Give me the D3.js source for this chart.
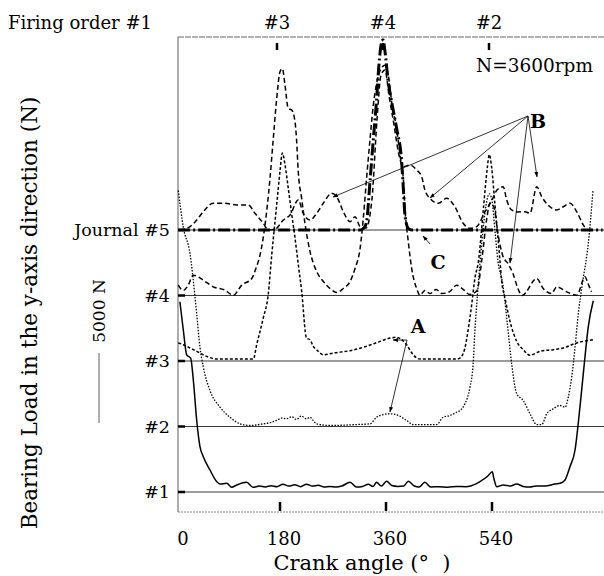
<!DOCTYPE html>
<html>
<head>
<meta charset="utf-8">
<script src="https://cdn.jsdelivr.net/npm/d3@7"></script>
<style>
  body { margin: 0; background: #fff; }
  svg { display: block; font-family: "DejaVu Serif", serif; }
</style>
</head>
<body>
<svg width="604" height="576"></svg>
<script>
// crank angle (deg) vs bearing load (N), one array per journal
const journal1 = [[10,13590],[15.8,11570],[21.6,9790],[28.4,9550],[32.8,8000],[38.5,5140],[44.1,3240],[49.8,2520],[61.1,1570],[72.5,740],[78.1,570],[89.5,620],[98,340],[106.5,500],[123.4,690],[134,340],[145,420],[155,360],[165,450],[175,380],[185,560],[195,420],[205,520],[215,380],[225,560],[235,420],[245,480],[255,360],[265,400],[275,360],[285,430],[299,690],[310,360],[320,400],[330,560],[338,400],[344,690],[352,430],[361,760],[370,460],[380,400],[390,430],[398,760],[408,430],[416,360],[426,690],[436,360],[450,380],[465,340],[480,400],[495,380],[505,450],[512,560],[519.6,740],[533,1140],[540.5,1450],[543,1000],[548,380],[559,500],[571,430],[582,570],[593,400],[604,360],[615,430],[630,430],[647,570],[655.5,620],[664,860],[672.4,1810],[681,3000],[686.5,4910],[692.3,7290],[697.9,9660],[703.5,11810],[712,13660]];

const journal2 = [[7.3,16860],[15.8,14240],[27.2,12340],[35.7,9240],[38.5,8050],[44.1,5660],[49.8,4240],[61.1,2570],[78.1,1380],[95.1,660],[112,190],[129,70],[151.6,190],[165,300],[174,430],[183,600],[191,550],[200,700],[208,500],[216,750],[225,550],[231,660],[236.5,430],[242,190],[265,70],[290,100],[310,140],[333,190],[344,660],[355,850],[367,910],[381,790],[395,430],[406,140],[446,140],[457,660],[468.7,790],[480,1020],[485.6,1140],[494,1620],[502.6,2810],[508,4480],[511,6860],[515,9240],[523,13290],[529.8,15790],[535.4,16620],[540,16140],[545,14000],[550,11860],[558.7,10070],[565.5,7570],[573.4,4480],[582,2340],[593,1860],[604.5,910],[616,140],[624.4,140],[633,910],[644,1260],[655.5,1500],[664,1380],[669.5,2090],[675.3,3520],[681,5660],[686.5,8050],[693,10070],[703.5,13070],[711.5,16860]];

const journal3 = [[7.3,1290],[15.8,1160],[27.2,930],[38.5,690],[55.5,330],[72.5,140],[100,140],[134.7,140],[140.4,1160],[151.6,3070],[160,4740],[166,7590],[174.4,11160],[180,13550],[184,14860],[188.5,14020],[194,12360],[200,10450],[205.5,8790],[211,6910],[216.8,4980],[225,1640],[231,1520],[236.5,1050],[242,810],[253.5,450],[270.5,570],[299,740],[327,1050],[350,1400],[367,1640],[378,1690],[395,1160],[406,450],[417.7,140],[450,140],[480,140],[485.6,210],[494,930],[500,2360],[505.5,4020],[511,5930],[517,7120],[525,10690],[532,13790],[535.4,14740],[539.5,13790],[545,11160],[550.7,8550],[553.6,7120],[556.5,5690],[562,4500],[570.5,2840],[582,1400],[593,810],[604.5,410],[621.5,690],[644,810],[661,930],[683.8,1290],[712,1520]];

const journal4 = [[7.3,740],[15.3,360],[23.8,710],[32.8,1450],[49.8,1090],[66.7,620],[86.6,380],[100.7,20],[115,740],[132,1210],[139,1930],[146,2880],[154.5,5020],[163,8360],[168.6,11210],[174.4,14070],[180,15980],[184,16210],[188.5,15020],[194,13360],[200,13240],[205.5,12410],[208,11210],[211,8840],[216.8,6930],[222.4,5140],[231,3140],[242.3,1710],[253.5,1000],[265,500],[276.3,210],[287.5,500],[299,1000],[307.4,1930],[316,3360],[321.4,5500],[327,8360],[333,11210],[338.4,13570],[344,15140],[350,16070],[358.3,16450],[364,15740],[369.6,13830],[378,11930],[383.8,10020],[389.4,8360],[392.2,6210],[397.8,3860],[403.6,1930],[412,500],[417.7,20],[426,360],[434.7,140],[445,430],[455,140],[468.7,290],[480,740],[491,430],[502.6,70],[514.5,360],[523,2640],[531.5,5600],[536.6,6600],[543.4,6300],[550,4430],[558.7,2790],[567,2290],[575.6,1570],[584,500],[591,0],[616,1210],[627,500],[641,140],[650,620],[667,260],[684,20],[697.9,1340],[703,860],[709,260]];

const journal5B = [[10,0],[27.2,240],[38.5,710],[49.8,1310],[66.7,1910],[86.6,1910],[106.5,1790],[126.2,1790],[137.5,1190],[151.6,480],[160,0],[171.5,50],[185.6,710],[197,1070],[211,2140],[219.5,1190],[231,710],[242.3,1190],[253.5,1910],[267.8,2620],[276.3,2380],[287.5,1310],[299,590],[307.4,950],[316,240],[326,140],[336,2140],[344.7,7860],[351.5,11070],[358.3,11430],[365,9640],[373.6,7500],[382,5360],[389.4,4520],[400.8,4640],[412,4290],[420.6,3810],[426,2860],[434.7,2260],[449,1910],[463,2260],[477,1660],[491,480],[502.6,120],[514,240],[528,1290],[540,2140],[548.5,2860],[559,3090],[565,2140],[573.4,1430],[584,1290],[596,1310],[604.5,1190],[616,3090],[624.4,2380],[638.5,1660],[650,1430],[661,1660],[672.4,1910],[683.8,1310],[695,360],[701,0]];

const journal5C = [[7,0],[100,0],[200,0],[316,0],[322.6,140],[327,570],[333,3570],[338.4,6430],[344,9290],[348,11790],[352.8,13450],[355,13570],[358.3,12740],[363.4,10710],[369.6,9160],[378,7260],[386.6,4880],[389.4,2980],[392.2,1070],[397.8,120],[404,0],[600,0],[728,0]];

const journals = [1, 2, 3, 4, 5];
const journalLabels = ['#1', '#2', '#3', '#4', 'Journal #5'];
const xTicks = [0, 180, 360, 540];
const firingAngles = [180, 360, 540];
const firingLabels = ['#3', '#4', '#2'];

const svg = d3.select('svg');
svg.append('rect').attr('width', 604).attr('height', 576).attr('fill', '#fff');

const x = d3.scaleLinear().domain([0, 720]).range([174, 598]);
const baseY = d3.scaleLinear().domain([1, 5]).range([492, 230]);
const loadPx = d3.scaleLinear().domain([0, 5000]).range([0, 70]);

const plotLeft = 178, plotRight = 604, plotTop = 37, plotBottom = 512;

// arrow head
svg.append('defs').append('marker')
    .attr('id', 'arr')
    .attr('viewBox', '0 0 10 10')
    .attr('refX', 9).attr('refY', 5)
    .attr('markerWidth', 7).attr('markerHeight', 7)
    .attr('orient', 'auto')
  .append('path')
    .attr('d', 'M0,1.5 L10,5 L0,8.5 Z')
    .attr('fill', '#000');

// frame
svg.append('line').attr('x1', plotLeft).attr('x2', plotRight).attr('y1', plotTop).attr('y2', plotTop)
   .attr('stroke', '#666').attr('stroke-width', 1).attr('stroke-dasharray', '6,1');
svg.append('line').attr('x1', plotLeft).attr('x2', plotLeft).attr('y1', plotTop).attr('y2', plotBottom)
   .attr('stroke', '#777').attr('stroke-width', 1.2);
svg.append('line').attr('x1', plotLeft).attr('x2', plotRight).attr('y1', plotBottom).attr('y2', plotBottom)
   .attr('stroke', '#888').attr('stroke-width', 1).attr('stroke-dasharray', '2,1');

// journal baselines
svg.selectAll('.base')
  .data(journals)
  .enter().append('line')
    .attr('x1', plotLeft).attr('x2', plotRight)
    .attr('y1', (d) => baseY(d)).attr('y2', (d) => baseY(d))
    .attr('stroke', '#222').attr('stroke-width', 0.9);

svg.selectAll('.btick')
  .data(journals)
  .enter().append('line')
    .attr('x1', plotLeft).attr('x2', plotLeft + 7)
    .attr('y1', (d) => baseY(d)).attr('y2', (d) => baseY(d))
    .attr('stroke', '#000').attr('stroke-width', 2.5);

svg.selectAll('.jlabel')
  .data(journals)
  .enter().append('text')
    .attr('x', 170)
    .attr('y', (d) => baseY(d) + 6)
    .attr('text-anchor', 'end')
    .attr('font-size', 17.5)
    .text((d, i) => journalLabels[i]);

// crank angle ticks
svg.selectAll('.xtick')
  .data(firingAngles)
  .enter().append('line')
    .attr('x1', (d) => x(d)).attr('x2', (d) => x(d))
    .attr('y1', 502).attr('y2', 511)
    .attr('stroke', '#000').attr('stroke-width', 2.5);

svg.selectAll('.xlabel')
  .data(xTicks)
  .enter().append('text')
    .attr('x', (d) => x(d) + (d === 0 ? 9 : 4))
    .attr('y', 545)
    .attr('text-anchor', 'middle')
    .attr('font-size', 18)
    .text((d) => d);

svg.append('text')
   .attr('x', 362).attr('y', 570)
   .attr('text-anchor', 'middle')
   .attr('font-size', 21)
   .text('Crank angle (°\u00a0\u00a0)');

// firing order on top
svg.append('text').attr('x', 8).attr('y', 29).attr('font-size', 18).text('Firing order #1');
svg.selectAll('.flabel')
  .data(firingAngles)
  .enter().append('text')
    .attr('x', (d) => x(d) - 3)
    .attr('y', 29)
    .attr('text-anchor', 'middle')
    .attr('font-size', 18)
    .text((d, i) => firingLabels[i]);
svg.selectAll('.ftick')
  .data(firingAngles)
  .enter().append('line')
    .attr('x1', (d) => x(d) - 3).attr('x2', (d) => x(d) - 3)
    .attr('y1', 43).attr('y2', 50)
    .attr('stroke', '#000').attr('stroke-width', 2.5);

// y title and scale bar
svg.append('text')
   .attr('transform', 'translate(37,313) rotate(-90)')
   .attr('text-anchor', 'middle')
   .attr('font-size', 21.5)
   .text('Bearing Load in the y-axis direction (N)');

svg.append('text')
   .attr('transform', 'translate(105,311) rotate(-90)')
   .attr('text-anchor', 'middle')
   .attr('font-size', 17)
   .text('5000 N');

svg.append('line')
   .attr('x1', 99).attr('x2', 99)
   .attr('y1', 423).attr('y2', 423 - loadPx(5000))
   .attr('stroke', '#777').attr('stroke-width', 1.2);

svg.append('text').attr('x', 593).attr('y', 72).attr('text-anchor', 'end')
   .attr('font-size', 18.5).text('N=3600rpm');

// curves
const curves = [
  { data: journal1, j: 1, dash: null, w: 1.5 },
  { data: journal2, j: 2, dash: '1.5,1.5', w: 1.3 },
  { data: journal3, j: 3, dash: '3,2', w: 1.5 },
  { data: journal4, j: 4, dash: '5,3', w: 1.5 },
  { data: journal5B, j: 5, dash: '5,3', w: 1.5 },
  { data: journal5C, j: 5, dash: '12,3,2,3', w: 3 }
];

curves.forEach((c) => {
  const line = d3.line()
      .x((d) => x(d[0]))
      .y((d) => baseY(c.j) - loadPx(d[1]))
      .curve(d3.curveMonotoneX);
  svg.append('path')
     .datum(c.data)
     .attr('d', line)
     .attr('fill', 'none')
     .attr('stroke', '#000')
     .attr('stroke-width', c.w)
     .attr('stroke-dasharray', c.dash);
});

// annotations
const arrows = [
  [528, 116, 333, 197], [528, 116, 430, 198], [528, 116, 510, 263], [528, 116, 537, 177],
  [407, 340, 393, 340], [407, 340, 390, 412],
  [430, 244, 423, 236]
];
svg.selectAll('.arrow')
  .data(arrows)
  .enter().append('line')
    .attr('x1', (d) => d[0]).attr('y1', (d) => d[1])
    .attr('x2', (d) => d[2]).attr('y2', (d) => d[3])
    .attr('stroke', '#000').attr('stroke-width', 0.8)
    .attr('marker-end', 'url(#arr)');

svg.append('text').attr('x', 538).attr('y', 128).attr('text-anchor', 'middle')
   .attr('font-size', 19).attr('font-weight', 'bold').text('B');
svg.append('text').attr('x', 438).attr('y', 269).attr('text-anchor', 'middle')
   .attr('font-size', 19).attr('font-weight', 'bold').text('C');
svg.append('text').attr('x', 418).attr('y', 333).attr('text-anchor', 'middle')
   .attr('font-size', 19).attr('font-weight', 'bold').text('A');
</script>
</body>
</html>
